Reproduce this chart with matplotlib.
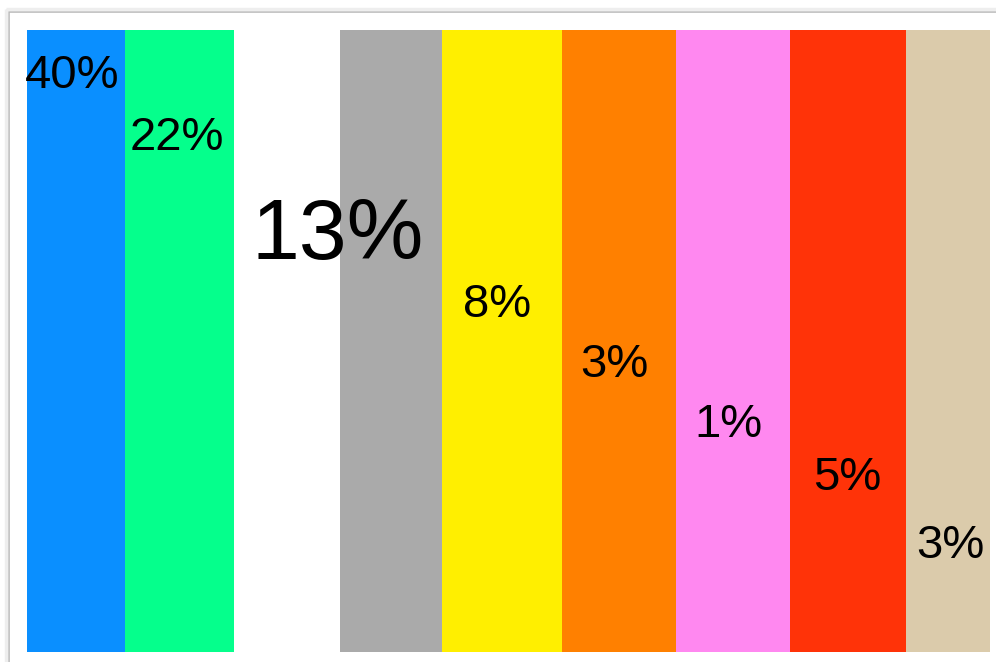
import matplotlib
matplotlib.use("Agg")
import matplotlib.pyplot as plt
from matplotlib.patches import Rectangle

# Stripe data (left to right)
stripe_colors = ["#0A8FFF", "#05FF8C", "#FFFFFF", "#AAAAAA", "#FFEF00",
                 "#FF8000", "#FF88F0", "#FF3308", "#DBCBAB"]
stripe_edges = [27, 125, 234, 340, 442, 562, 676, 790, 906, 990]

# Labels
label_values = [40, 22, 13, 8, 3, 1, 5, 3]
label_texts = [f"{v}%" for v in label_values]

# Layout of labels (pixel coordinates: centre x, baseline y, font size)
label_x = [72, 177, 338, 497, 614, 728, 847, 950]
label_y = [88, 150, 259, 317, 377, 437, 490, 558]
label_size = [34, 34, 62, 34, 34, 34, 34, 34]

W, H = 996, 662
fig = plt.figure(figsize=(W / 100, H / 100), dpi=100)
ax = fig.add_axes([0, 0, 1, 1])
ax.set_xlim(0, W)
ax.set_ylim(H, 0)
ax.axis("off")

# card with light border
ax.add_patch(Rectangle((8.5, 11.5), W + 20, H + 20, facecolor="white",
                       edgecolor="#BBBBBB", linewidth=1.2, zorder=0))
ax.add_patch(Rectangle((6, 9), W + 20, H + 20, facecolor="none",
                       edgecolor="#EEEEEE", linewidth=2.5, zorder=0))

lefts = stripe_edges[:-1]
widths = [b - a for a, b in zip(stripe_edges[:-1], stripe_edges[1:])]
ax.bar(lefts, [622] * len(lefts), width=widths, bottom=30, align="edge",
       color=stripe_colors, edgecolor="none", zorder=1)

for t, x, y, s in zip(label_texts, label_x, label_y, label_size):
    ax.text(x, y, t, ha="center", va="baseline", fontsize=s,
            family=["Liberation Sans", "DejaVu Sans"], color="black", zorder=2)

fig.savefig("out.png", dpi=100)
